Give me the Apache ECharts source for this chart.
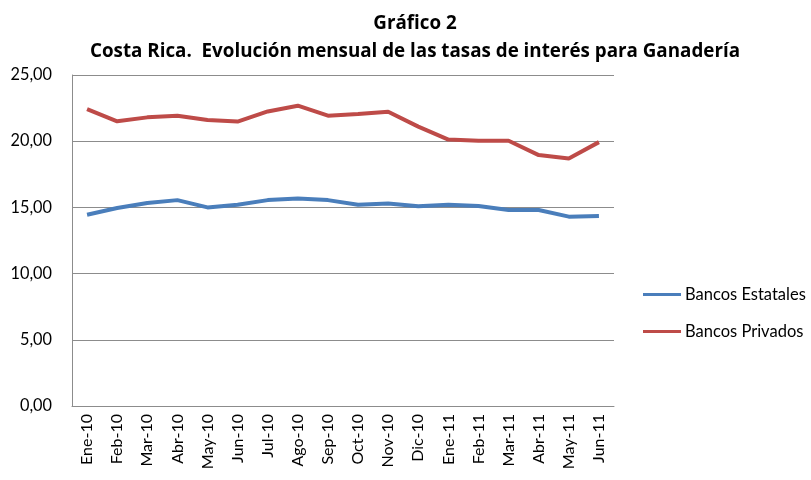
<!DOCTYPE html>
<html>
<head>
<meta charset="utf-8">
<script src="https://cdn.jsdelivr.net/npm/echarts@6/dist/echarts.min.js"></script>
<style>html,body{margin:0;padding:0;background:#fff}#c{width:811px;height:480px}</style>
</head>
<body>
<div id="c"></div>
<script>
const categories = ['Ene-10','Feb-10','Mar-10','Abr-10','May-10','Jun-10','Jul-10','Ago-10','Sep-10','Oct-10','Nov-10','Dic-10','Ene-11','Feb-11','Mar-11','Abr-11','May-11','Jun-11'];
const bancosEstatales = [14.45,14.95,15.33,15.55,15.0,15.2,15.55,15.68,15.55,15.2,15.3,15.08,15.2,15.1,14.8,14.8,14.3,14.35];
const bancosPrivados = [22.43,21.5,21.8,21.93,21.6,21.48,22.25,22.68,21.93,22.05,22.23,21.1,20.12,20.03,20.03,18.95,18.7,19.93];
const titleLines = ['Gráfico 2','Costa Rica.  Evolución mensual de las tasas de interés para Ganadería'];
const FONT = 'Lato';
const chart = echarts.init(document.getElementById('c'), null, {renderer:'canvas'});
chart.setOption({
  animation:false,
  backgroundColor:'#fff',
  title:{
    text: titleLines.join('\n'),
    left: 410, top: 5, textAlign:'center',
    textStyle:{fontFamily:'Open Sans', fontWeight:'bold', fontSize:18.8, color:'#000', lineHeight:28}
  },
  legend:{
    orient:'vertical', left:638, top:281, itemGap:20,
    itemWidth:38, itemHeight:14, icon:'path://M0,6 L38,6 L38,9 L0,9 Z',
    textStyle:{fontFamily:FONT, fontSize:16.5, color:'#000', padding:[0,0,0,-1]},
    data:['Bancos Estatales','Bancos Privados']
  },
  grid:{left:72, right:197, top:75, bottom:74},
  xAxis:{
    type:'category', data:categories, boundaryGap:true,
    axisLine:{lineStyle:{color:'#8c8c8c', width:1}},
    axisTick:{show:false},
    axisLabel:{rotate:90, fontFamily:FONT, fontSize:16, color:'#000', margin:8, interval:0}
  },
  yAxis:{
    type:'value', min:0, max:25, interval:5,
    axisLine:{show:true, lineStyle:{color:'#8c8c8c', width:1}},
    axisTick:{show:false},
    splitLine:{lineStyle:{color:'#8c8c8c', width:1}},
    axisLabel:{fontFamily:FONT, fontSize:16.3, color:'#000', margin:20,
      formatter:v=>v.toFixed(2).replace('.',',')}
  },
  series:[
    {name:'Bancos Estatales', type:'line', data:bancosEstatales, symbol:'none',
      lineStyle:{color:'#4a7ebb', width:4}, itemStyle:{color:'#4a7ebb'}},
    {name:'Bancos Privados', type:'line', data:bancosPrivados, symbol:'none',
      lineStyle:{color:'#be4b48', width:4}, itemStyle:{color:'#be4b48'}}
  ]
});
</script>
</body>
</html>
